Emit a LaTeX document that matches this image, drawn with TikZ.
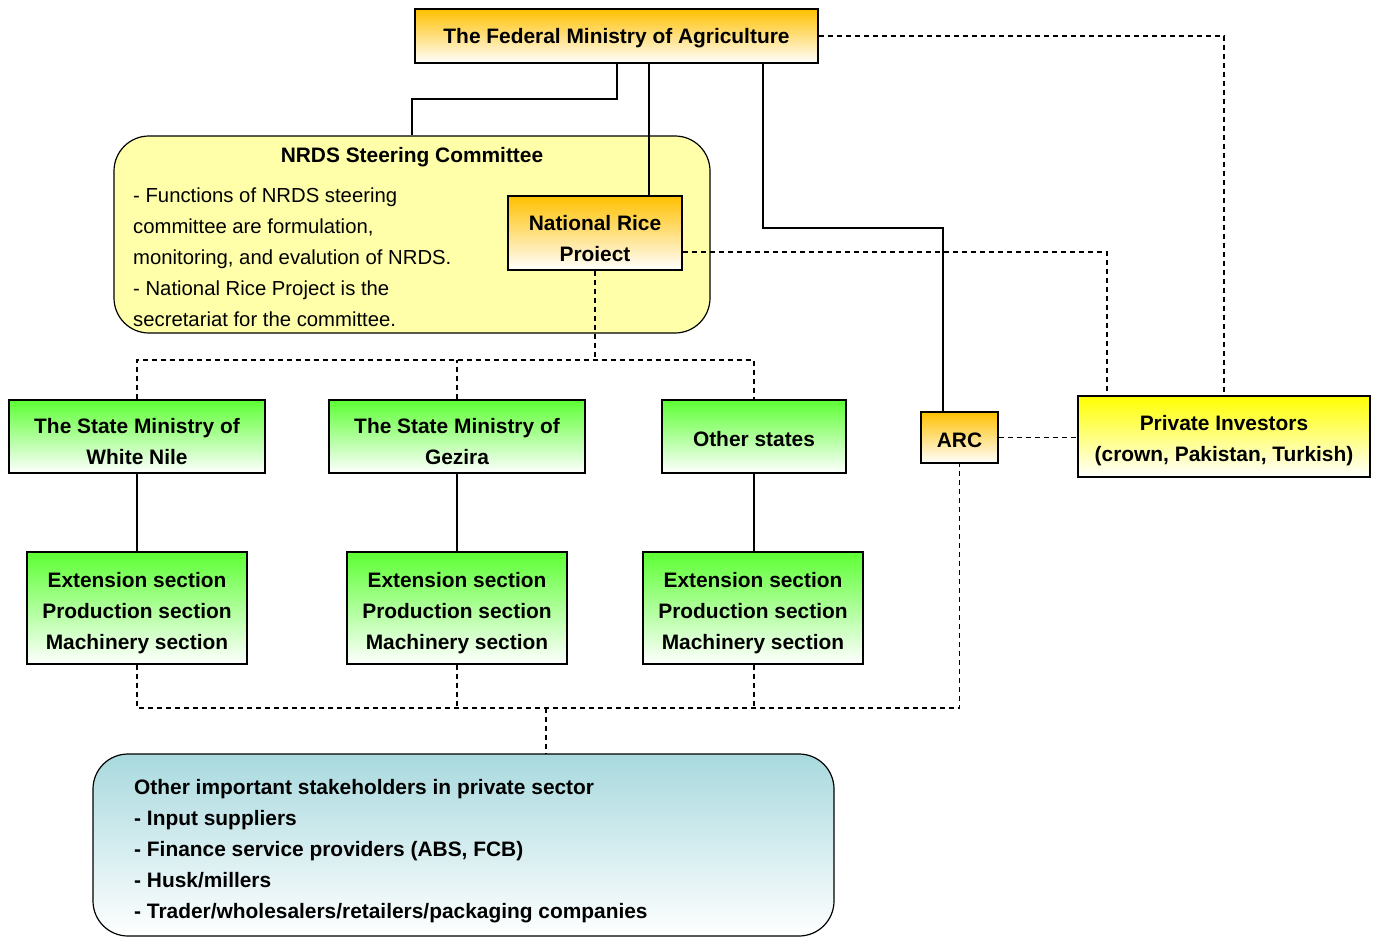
\documentclass[tikz,border=0pt]{standalone}
\usepackage{fontspec}
\setmainfont{Liberation Sans}
\definecolor{orgtop}{HTML}{FFC000}
\definecolor{grntop}{HTML}{5CFF33}
\definecolor{yeltop}{HTML}{FFFF00}
\definecolor{cmtfill}{HTML}{FFFFAA}
\definecolor{stktop}{HTML}{A8D9DE}
\newcommand{\fs}{\fontsize{20.9}{31}\selectfont}
\newcommand{\fr}{\fontsize{20.3}{31}\selectfont}
\begin{document}
\begin{tikzpicture}[x=1pt,y=-1pt,
  box/.style={draw=black,line width=1.2pt,inner sep=0pt},
  orangebox/.style={box,top color=orgtop,bottom color=white},
  greenbox/.style={box,top color=grntop,bottom color=white},
  yellowbox/.style={box,top color=yeltop,bottom color=white},
  btxt/.style={inner sep=0pt,align=center,font=\bfseries\fs},
  conn/.style={draw=black,line width=1.2pt},
  dconn/.style={draw=black,line width=1.2pt,dash pattern=on 5pt off 4pt},
  txt/.style={inner sep=0pt,align=left,font=\fr}]
\useasboundingbox (0,0) rectangle (1376,937);
% boxes
\node[box,fill=cmtfill,rounded corners=35pt,minimum width=596pt,minimum height=197pt] (nrds) at (412,234.5) {};
\node[btxt] (nrdst) at (412,157) {NRDS Steering Committee};
\node[txt,anchor=north west] (nrdsb) at (133,187.5) {- Functions of NRDS steering\\committee are formulation,\\monitoring, and evalution of NRDS.\\- National Rice Project is the\\secretariat for the committee.};
\node[orangebox,minimum width=403pt,minimum height=54pt] (fma) at (616.5,36) {};
\node[btxt] (fmat) at ([yshift=-2.5pt]fma.center) {The Federal Ministry of Agriculture};
\node[orangebox,minimum width=174pt,minimum height=74pt] (nrp) at (595,233) {};
\node[btxt] (nrpt) at ([yshift=-5.5pt]nrp.center) {National Rice\\Proiect};
\node[orangebox,minimum width=77pt,minimum height=51pt] (arc) at (959.5,437.5) {};
\node[btxt] (arct) at ([yshift=-2.5pt]arc.center) {ARC};
\node[yellowbox,minimum width=292pt,minimum height=81pt] (pi) at (1224,436.5) {};
\node[btxt] (pit) at ([yshift=-4.5pt]pi.center) {Private Investors\\(crown, Pakistan, Turkish)};
\node[greenbox,minimum width=256pt,minimum height=73pt] (wn) at (137,436.5) {};
\node[btxt] (wnt) at ([yshift=-5.5pt]wn.center) {The State Ministry of\\White Nile};
\node[greenbox,minimum width=256pt,minimum height=73pt] (gz) at (457,436.5) {};
\node[btxt] (gzt) at ([yshift=-5.5pt]gz.center) {The State Ministry of\\Gezira};
\node[greenbox,minimum width=184pt,minimum height=73pt] (os) at (754,436.5) {};
\node[btxt] (ost) at ([yshift=-2.5pt]os.center) {Other states};
\node[greenbox,minimum width=220pt,minimum height=112pt] (s1) at (137,608) {};
\node[btxt] (s1t) at ([yshift=-5pt]s1.center) {Extension section\\Production section\\Machinery section};
\node[greenbox,minimum width=220pt,minimum height=112pt] (s2) at (457,608) {};
\node[btxt] (s2t) at ([yshift=-5pt]s2.center) {Extension section\\Production section\\Machinery section};
\node[greenbox,minimum width=220pt,minimum height=112pt] (s3) at (753,608) {};
\node[btxt] (s3t) at ([yshift=-5pt]s3.center) {Extension section\\Production section\\Machinery section};
\node[box,top color=stktop,bottom color=white,rounded corners=35pt,minimum width=741pt,minimum height=182pt] (stk) at (463.5,845) {};
\node[btxt,align=left,anchor=north west] (stkt) at (134,779.5) {Other important stakeholders in private sector\\- Input suppliers\\- Finance service providers (ABS, FCB)\\- Husk/millers\\- Trader/wholesalers/retailers/packaging companies};
% solid connectors
\coordinate (j0) at (617,99);
\coordinate (j1) at (943,228);
\draw[conn] (fma.south -| j0) |- (j0) -| (nrds.north);
\draw[conn] ([xshift=32.5pt]fma.south) -- ([xshift=32.5pt]fma.south |- nrp.north);
\draw[conn] ([xshift=146.5pt]fma.south) |- (j1) -- (j1 |- arc.north);
\draw[conn] (wn.south) -- (s1.north -| wn.south);
\draw[conn] (gz.south) -- (s2.north -| gz.south);
\draw[conn] (os.south) -- (s3.north -| os.south);
% dashed connectors
\coordinate (pj) at (1107,252);
\draw[dconn] (fma.east) -| (pi.north);
\draw[dconn] (nrp.east |- pj) -- (pj) -- (pj |- pi.north);
\draw[dconn] (arc.east) -- (pi.west |- arc.east);
\coordinate (b1) at (596,360);
\draw[dconn] (nrp.south) -- (nrp.south |- b1);
\draw[dconn] (wn.north) |- (os.north |- b1) -- (os.north);
\draw[dconn] (gz.north) -- (gz.north |- b1);
\coordinate (b2) at (546,708);
\draw[dconn] (s1.south -| wn.south) |- (arc.south |- b2) -- (arc.south);
\draw[dconn] (s2.south -| gz.south) -- (gz.south |- b2);
\draw[dconn] (s3.south -| os.south) -- (os.south |- b2);
\draw[dconn] (b2) -- (b2 |- stk.north);
\end{tikzpicture}
\end{document}
